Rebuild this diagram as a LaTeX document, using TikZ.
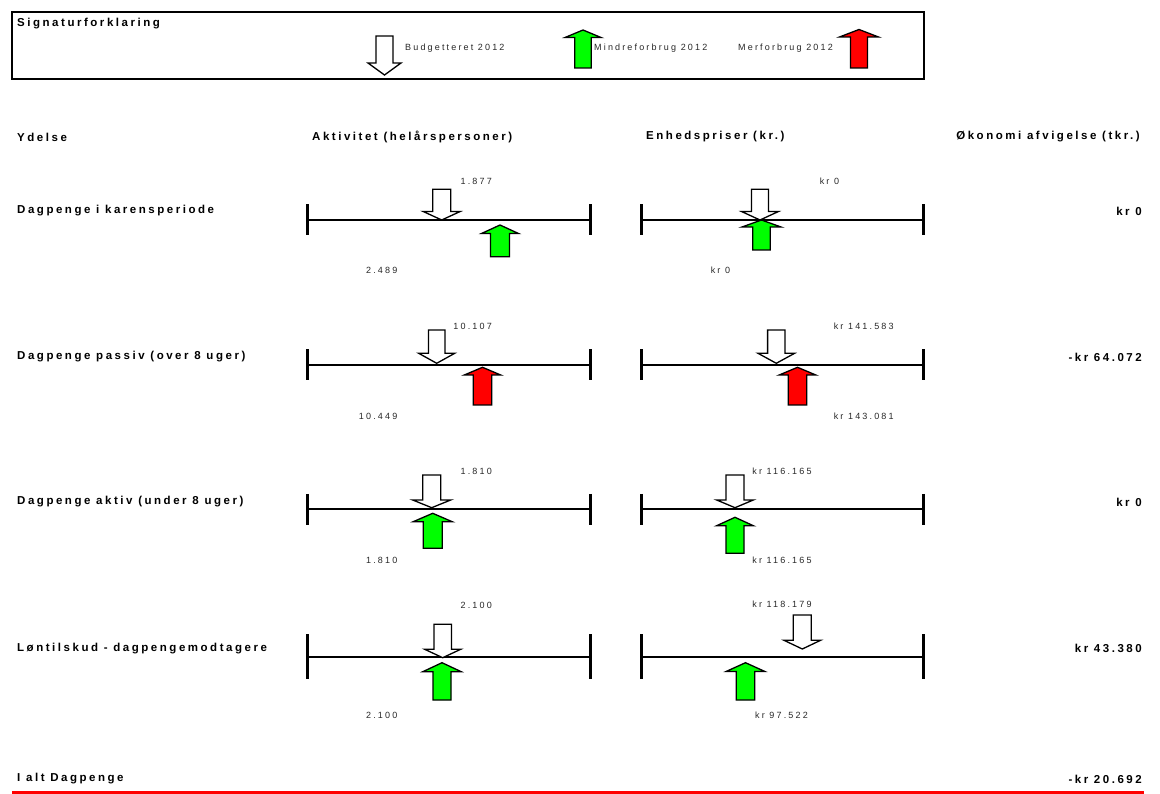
\documentclass[tikz,border=0pt]{standalone}
\usepackage{fontspec}
\setmainfont{Liberation Sans}
\newfontfamily\lblfont[LetterSpace=22]{Liberation Sans}
\newfontfamily\smlfont[LetterSpace=24]{Liberation Sans}
\definecolor{mgreen}{RGB}{0,255,0}
\definecolor{mred}{RGB}{255,0,0}
\definecolor{txtgray}{RGB}{40,40,40}
% down arrow: x, tail y, tip y, fill, head half width, shaft half width, head height
\newcommand\arrdn[7]{\filldraw[arrowline,fill=#4] ({#1-#6},#2) -- ({#1+#6},#2) -- ({#1+#6},{#3-#7}) -- ({#1+#5},{#3-#7}) -- (#1,#3) -- ({#1-#5},{#3-#7}) -- ({#1-#6},{#3-#7}) -- cycle;}
% up arrow: x, tip y, tail y, fill, head half width, shaft half width, head height
\newcommand\arrup[7]{\filldraw[arrowline,fill=#4] (#1,#2) -- ({#1+#5},{#2+#7}) -- ({#1+#6},{#2+#7}) -- ({#1+#6},#3) -- ({#1-#6},#3) -- ({#1-#6},{#2+#7}) -- ({#1-#5},{#2+#7}) -- cycle;}
% scale bar: name, x left, x right, y, tick half height
\newcommand\scalebar[5]{%
  \coordinate (#1l) at (#2,#4);
  \coordinate (#1r) at (#3,#4);
  \draw[barline] (#1l) -- (#1r);
  \draw[tickline] (#2,{#4-#5}) -- (#2,{#4+#5});
  \draw[tickline] (#3,{#4-#5}) -- (#3,{#4+#5});}
\begin{document}
\begin{tikzpicture}[x=1pt,y=-1pt,
  hd/.style={font=\lblfont\bfseries\fontsize{11.5}{13}\selectfont, inner sep=0pt, text=black},
  sm/.style={font=\smlfont\fontsize{9}{11}\selectfont, inner sep=0pt, text=txtgray},
  barline/.style={line width=2.2pt},
  tickline/.style={line width=3pt},
  arrowline/.style={line width=1.3pt, draw=black, line join=miter},
  boxline/.style={line width=2pt}]
\useasboundingbox (0,0) rectangle (1160,794);
\fill[white] (0,0) rectangle (1160,794);

% legend
\draw[boxline] (12,12) rectangle (924,79);
\node[hd, anchor=west] (sig) at (17,24) {Signaturforklaring};
\arrdn{384.5}{36}{75}{white}{16.5}{8.5}{12}
\node[sm, anchor=west] (lb) at (405,48) {Budgetteret 2012};
\arrup{583}{30}{68}{mgreen}{18}{8.2}{7.5}
\node[sm, anchor=west] (lm) at (594,48) {Mindreforbrug 2012};
\node[sm, anchor=west] (lmf) at (738,48) {Merforbrug 2012};
\arrup{859}{29.5}{68}{mred}{19.5}{8.5}{7.5}

% headers
\node[hd, anchor=west] (h1) at (17,137) {Ydelse};
\node[hd, anchor=west] (h2) at (312,137) {Aktivitet (helårspersoner)};
\node[hd, anchor=west] (h3) at (646,137) {Enhedspriser (kr.)};
\node[hd, anchor=east] (h4) at (1140,137) {Økonomi afvigelse (tkr.)};

% row labels
\node[hd, anchor=west] (r1) at (17,211) {Dagpenge i karensperiode};
\node[hd, anchor=west] (r2) at (17,357) {Dagpenge passiv (over 8 uger)};
\node[hd, anchor=west] (r3) at (17,502) {Dagpenge aktiv (under 8 uger)};
\node[hd, anchor=west] (r4) at (17,649) {Løntilskud - dagpengemodtagere};
\node[hd, anchor=east] (v1) at (1142,211) {kr 0};
\node[hd, anchor=east] (v2) at (1142,357) {-kr 64.072};
\node[hd, anchor=east] (v3) at (1142,502) {kr 0};
\node[hd, anchor=east] (v4) at (1142,648) {kr 43.380};

% scale bars
\scalebar{a1}{307}{590}{220}{15.5}
\scalebar{e1}{641}{923}{220}{15.5}
\scalebar{a2}{307}{590}{365}{15.5}
\scalebar{e2}{641}{923}{365}{15.5}
\scalebar{a3}{307}{590}{509.3}{15.5}
\scalebar{e3}{641}{923}{509.3}{15.5}
\scalebar{a4}{307}{590}{656.7}{22.5}
\scalebar{e4}{641}{923}{656.7}{22.5}

% row 1
\arrdn{441.7}{189.3}{220}{white}{18.5}{9}{8.5}
\arrup{500}{225}{256.7}{mgreen}{18.5}{9.5}{8.5}
\arrdn{760}{189.3}{220}{white}{18.5}{8.5}{8.5}
\arrup{761.5}{220}{250}{mgreen}{19.5}{8.7}{7}
\node[sm, anchor=east] (a1t) at (492,181.7) {1.877};
\node[sm, anchor=east] (a1b) at (397.5,270) {2.489};
\node[sm] (e1t) at (829.5,181.7) {kr 0};
\node[sm] (e1b) at (720.5,270) {kr 0};

% row 2
\arrdn{436.7}{330}{363.3}{white}{18}{8.3}{10}
\arrup{482.5}{367.3}{405}{mred}{18.2}{9.2}{7.7}
\arrdn{776.3}{330}{363.3}{white}{18.3}{8.7}{10}
\arrup{797.5}{367.3}{405}{mred}{18.3}{9.2}{7.7}
\node[sm, anchor=east] (a2t) at (492,326.7) {10.107};
\node[sm, anchor=east] (a2b) at (397.5,416.7) {10.449};
\node[sm] (e2t) at (863.7,326.7) {kr 141.583};
\node[sm] (e2b) at (863.7,416.7) {kr 143.081};

% row 3
\arrdn{431.7}{475}{507.7}{white}{19}{9}{7.7}
\arrup{432.7}{513.3}{548.3}{mgreen}{19.5}{9.5}{8.4}
\arrdn{735}{475}{507.7}{white}{18.3}{9}{7.7}
\arrup{735}{517.3}{553.3}{mgreen}{18.3}{9}{8.4}
\node[sm, anchor=east] (a3t) at (492,471) {1.810};
\node[sm, anchor=east] (a3b) at (397.5,560) {1.810};
\node[sm] (e3t) at (782,471.7) {kr 116.165};
\node[sm] (e3b) at (782,560) {kr 116.165};

% row 4
\arrdn{442.7}{624.3}{657.7}{white}{18}{8.8}{8.4}
\arrup{442}{662.7}{700}{mgreen}{19.2}{9}{9}
\arrdn{802.3}{615}{649}{white}{18.3}{9}{8.7}
\arrup{745.5}{662.7}{700}{mgreen}{19.2}{9.2}{8.7}
\node[sm, anchor=east] (a4t) at (492,605) {2.100};
\node[sm, anchor=east] (a4b) at (397.5,715) {2.100};
\node[sm] (e4t) at (782,604) {kr 118.179};
\node[sm] (e4b) at (781.5,715) {kr 97.522};

% total
\node[hd, anchor=west] (tot) at (17,779) {I alt Dagpenge};
\node[hd, anchor=east] (totv) at (1142,779) {-kr 20.692};
\coordinate (redl) at (12,792);
\coordinate (redr) at (1144,792);
\draw[mred, line width=3pt] (redl) -- (redr);
\end{tikzpicture}
\end{document}
